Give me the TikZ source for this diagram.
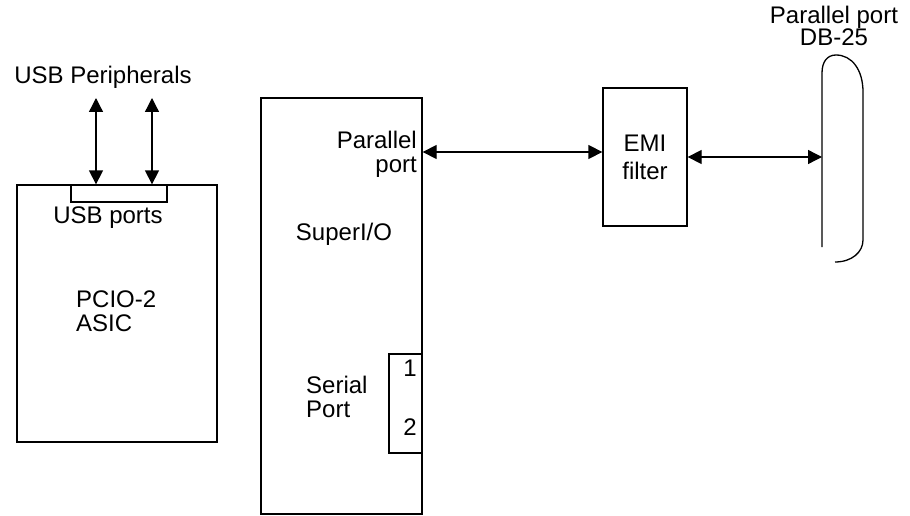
\documentclass[tikz,border=0pt]{standalone}
\usepackage{fontspec}
\setmainfont{Liberation Sans}
\usetikzlibrary{arrows.meta}

\begin{document}
\begin{tikzpicture}[
    x=1pt, y=-1pt,
    box/.style={rectangle, draw, line width=1.3pt, inner sep=0pt, align=center,
                font=\fontsize{24}{28}\selectfont},
    lbl/.style={inner sep=0pt, font=\fontsize{24}{24}\selectfont},
    arr/.style={{Triangle[length=14pt,width=14pt]}-{Triangle[length=14pt,width=14pt]}, line width=1.3pt}
]
\useasboundingbox (0,0) rectangle (910,516);

% PCIO-2 ASIC with its USB ports
\node[box, minimum width=200, minimum height=257] (pcio) at (117,313.5) {};
\node[box, minimum width=96, minimum height=17] (usb) at (119,193.5) {};
\node[lbl] (usbtxt) at (108,218) {USB ports};
\node[lbl, align=left, anchor=west] (pciotxt) at (76,311) {PCIO-2\\ASIC};
\node[lbl] (periph) at (103,77) {USB Peripherals};
\coordinate (u1) at (96,98);
\coordinate (u2) at (152,98);

% SuperI/O
\node[box, minimum width=161, minimum height=416] (sio) at (341.5,306) {};
\node[box, minimum width=33, minimum height=99] (ser) at (405.5,403.5) {};
\node[lbl, align=right, anchor=east] (partxt) at (417,154) {Parallel\\port};
\node[lbl] (siotxt) at (344,234) {SuperI/O};
\node[lbl, align=left, anchor=west] (sertxt) at (306,397) {Serial\\Port};
\node[lbl] (s1) at (410,368) {1};
\node[lbl] (s2) at (410,427) {2};

% EMI filter and DB-25 connector
\node[box, minimum width=84, minimum height=138] (emi) at (645,157) {EMI\\filter};
\node[lbl, align=center, font=\fontsize{24}{21}\selectfont] (dbtxt) at (834,26) {Parallel port\\DB-25};
\coordinate (emiin) at ([yshift=5pt]emi.west);
\coordinate (db) at (822,157);
\draw[line width=1.3pt] (822,247) -- (822,73) .. controls (822,62) and (827,55) .. (836,55)
    .. controls (852,55) and (863,70) .. (863,92) -- (863,240)
    .. controls (863,252) and (852,262) .. (835,262);

\draw[arr] (u1) -- (u1 |- pcio.north);
\draw[arr] (u2) -- (u2 |- pcio.north);
\draw[arr] (sio.east |- emiin) -- (emiin);
\draw[arr] (emi.east) -- (db);
\end{tikzpicture}
\end{document}
